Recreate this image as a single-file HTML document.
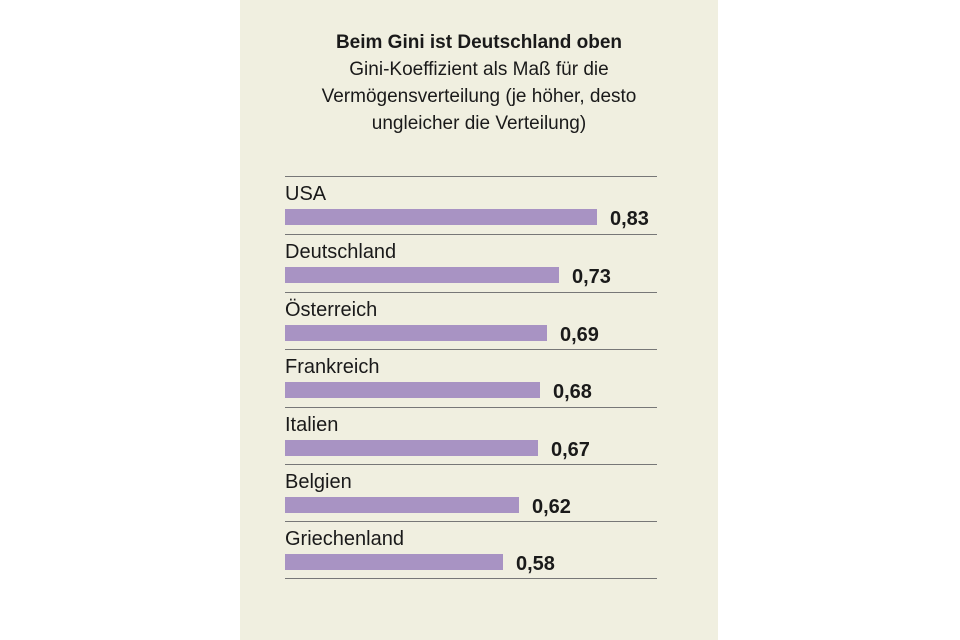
<!DOCTYPE html>
<html><head><style>
body{margin:0;width:960px;height:640px;background:#fff;position:relative;font-family:"Liberation Sans",sans-serif;overflow:hidden}
.p{position:absolute;left:240px;top:0;width:478px;height:640px;background:#f0efe0}
.t{position:absolute;left:240px;width:478px;text-align:center;color:#1a1a1a;font-size:19px}
.l{position:absolute;left:285px;width:372px;height:1px;background:#777}
.n{position:absolute;left:285px;font-size:20px;color:#1a1a1a}
.b{position:absolute;left:285px;height:16px;background:#a893c3}
.v{position:absolute;font-size:20px;font-weight:bold;color:#1a1a1a}
</style></head><body>
<div class="p"></div>
<div class="t" style="top:32px;font-weight:bold">Beim Gini ist Deutschland oben</div>
<div class="t" style="top:56px;line-height:27px">Gini-Koeffizient als Maß für die<br>Vermögensverteilung (je höher, desto<br>ungleicher die Verteilung)</div>
<div class="l" style="top:176px"></div>
<div class="n" style="top:183px">USA</div><div class="b" style="top:209px;width:312px"></div><div class="v" style="top:208px;left:610px">0,83</div>
<div class="l" style="top:234px"></div>
<div class="n" style="top:241px">Deutschland</div><div class="b" style="top:267px;width:274px"></div><div class="v" style="top:266px;left:572px">0,73</div>
<div class="l" style="top:292px"></div>
<div class="n" style="top:299px">Österreich</div><div class="b" style="top:325px;width:262px"></div><div class="v" style="top:324px;left:560px">0,69</div>
<div class="l" style="top:349px"></div>
<div class="n" style="top:356px">Frankreich</div><div class="b" style="top:382px;width:255px"></div><div class="v" style="top:381px;left:553px">0,68</div>
<div class="l" style="top:407px"></div>
<div class="n" style="top:414px">Italien</div><div class="b" style="top:440px;width:253px"></div><div class="v" style="top:439px;left:551px">0,67</div>
<div class="l" style="top:464px"></div>
<div class="n" style="top:471px">Belgien</div><div class="b" style="top:497px;width:234px"></div><div class="v" style="top:496px;left:532px">0,62</div>
<div class="l" style="top:521px"></div>
<div class="n" style="top:528px">Griechenland</div><div class="b" style="top:554px;width:218px"></div><div class="v" style="top:553px;left:516px">0,58</div>
<div class="l" style="top:578px"></div>
</body></html>
